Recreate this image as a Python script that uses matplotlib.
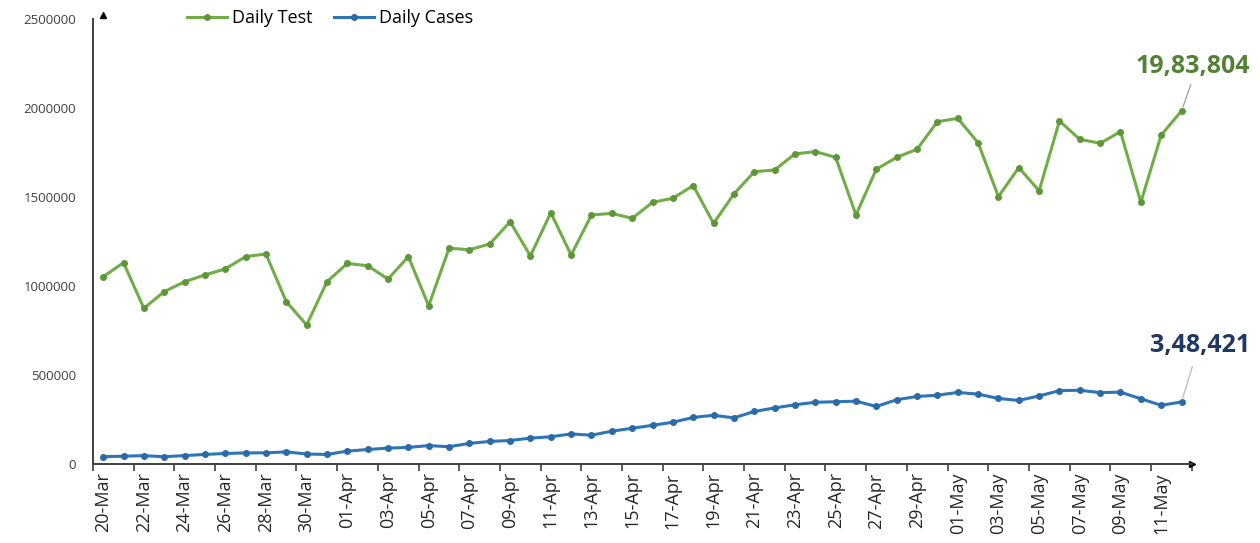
import numpy as np
import pandas as pd
import matplotlib
matplotlib.use("Agg")
import matplotlib.pyplot as plt

plt.rcParams['font.family'] = ['Open Sans', 'DejaVu Sans']

# dates 20-Mar .. 12-May
dates = pd.date_range('2021-03-20', '2021-05-12').strftime('%d-%b').tolist()

daily_test = [1052000, 1131000, 875000, 968000, 1024000, 1062000, 1096000, 1165000, 1180000, 912000,
              781000, 1024000, 1127000, 1114000, 1039000, 1165000, 889000, 1212000, 1204000, 1236000,
              1361000, 1169000, 1412000, 1174000, 1399000, 1408000, 1380000, 1470000, 1493000, 1564000,
              1352000, 1517000, 1642000, 1652000, 1742000, 1755000, 1723000, 1399000, 1656000, 1723000,
              1768000, 1923000, 1942000, 1805000, 1502000, 1665000, 1535000, 1927000, 1824000, 1802000,
              1867000, 1470000, 1848000, 1983804]

daily_cases = [40953, 43846, 46951, 40715, 47262, 53476, 59118, 62258, 62714, 68020,
               56211, 53480, 72330, 81466, 89129, 93249, 103558, 96982, 115736, 126789,
               131968, 145384, 152879, 168912, 161736, 184372, 200739, 217353, 234692, 261500,
               273810, 259170, 295041, 314835, 332730, 346786, 349691, 352991, 323144, 360960,
               379257, 386452, 401993, 392488, 368147, 357229, 382315, 412262, 414188, 401078,
               403738, 366161, 329942, 348421]

green = '#70ad47'
blue = '#2e75b6'

x = np.arange(len(dates))

fig = plt.figure(figsize=(12.6, 5.43), dpi=100)
ax = fig.add_axes([0.0738, 0.1455, 0.872, 0.8195])

ax.plot(x, daily_test, color=green, lw=2.2, marker='o', ms=4, mfc='#5e9638', mec='#5e9638', label='Daily Test')
ax.plot(x, daily_cases, color=blue, lw=2.2, marker='o', ms=4, mfc='#2a6aa6', mec='#2a6aa6', label='Daily Cases')

ax.set_xlim(-0.5, len(dates) - 0.5)
ax.set_ylim(0, 2500000)
ax.set_yticks(np.arange(0, 2500001, 500000))
ax.set_yticklabels([str(v) for v in range(0, 2500001, 500000)])

ax.set_xticks(x[::2])
ax.set_xticklabels(dates[::2], rotation=90, fontsize=13, color='#262626')
ax.set_xticks(np.arange(-0.5, len(dates), 2), minor=True)
ax.tick_params(axis='x', which='major', length=0, pad=6)
ax.tick_params(axis='x', which='minor', length=5, width=1.2, color='#404040', direction='out')
ax.tick_params(axis='y', length=0, pad=12, labelsize=9.5, labelcolor='#404040')

for s in ['top', 'right']:
    ax.spines[s].set_visible(False)
for s in ['left', 'bottom']:
    ax.spines[s].set_color('#404040')
    ax.spines[s].set_linewidth(1.4)

# arrow heads on axes
ax.plot(1, 0, '>', color='black', ms=5, transform=ax.get_yaxis_transform(), clip_on=False)
ax.plot(0, 1.008, '^', color='black', ms=5, transform=ax.get_xaxis_transform(), clip_on=False)

ax.annotate('19,83,804', xy=(x[-1], daily_test[-1]), xytext=(0.992, 0.877), textcoords='figure fraction',
            ha='right', va='center', fontsize=18, fontweight='bold', color='#548235',
            arrowprops=dict(arrowstyle='-', color='#a6a6a6', lw=1, shrinkA=2, shrinkB=3,
                            relpos=(0.5, 0)),
            annotation_clip=False)
ax.annotate('3,48,421', xy=(x[-1], daily_cases[-1]), xytext=(0.992, 0.363), textcoords='figure fraction',
            ha='right', va='center', fontsize=18, fontweight='bold', color='#1f3864',
            arrowprops=dict(arrowstyle='-', color='#bfbfbf', lw=1, shrinkA=4, shrinkB=3,
                            relpos=(0.45, 0)),
            annotation_clip=False)

fig.legend(loc='center', bbox_to_anchor=(0.262, 0.967), ncol=2, frameon=False,
           fontsize=13, handlelength=2.2, handletextpad=0.3, columnspacing=1.2)

fig.savefig('out.png', dpi=100)
